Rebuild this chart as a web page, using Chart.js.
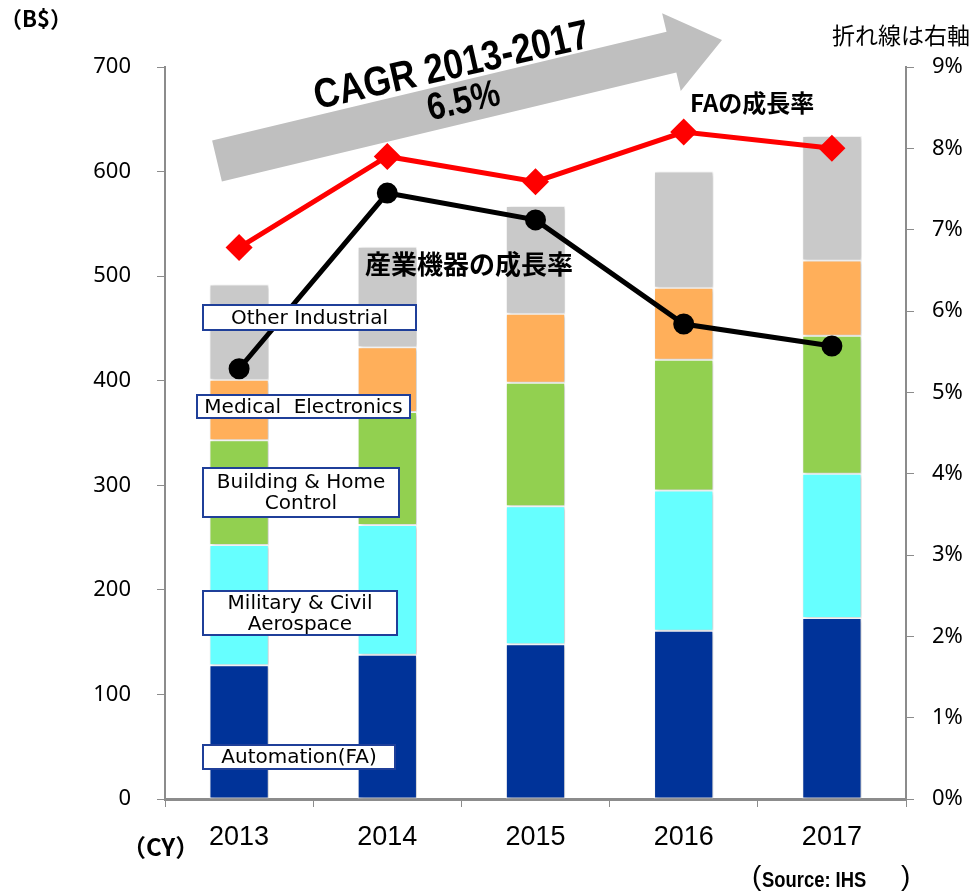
<!DOCTYPE html>
<html>
<head>
<meta charset="utf-8">
<script src="https://cdn.jsdelivr.net/npm/chart.js@4"></script>
<style>
  html, body { margin: 0; padding: 0; background: #fff; }
  #wrap { width: 972px; height: 896px; position: relative; }
</style>
</head>
<body>
<div id="wrap"><canvas id="c" width="972" height="896"></canvas></div>
<script>
// 年と系列（B$）
const YEARS = ['2013', '2014', '2015', '2016', '2017'];
const AUTOMATION = [128, 138, 148, 161, 173];
const AEROSPACE = [115, 124, 132, 134, 138];
const BUILDING = [100, 108, 118, 125, 132];
const MEDICAL = [58, 62, 66, 69, 72];
const OTHER = [91, 96, 103, 111, 119];
// 成長率（%、右軸）
const FA_GROWTH = [6.78, 7.9, 7.59, 8.2, 8.0];
const IND_GROWTH = [5.29, 7.45, 7.12, 5.84, 5.57];

const Y_MAX = 700, Y_STEP = 100;
const Y2_MAX = 9, Y2_STEP = 1;

const AXIS_GRAY = '#8c8c8c';
const JP = '"Noto Sans CJK JP", "Noto Sans", sans-serif';
const NARROW = '"Liberation Sans Narrow", "Liberation Sans", sans-serif';

function barSet(label, data, color) {
    return {
        type: 'bar', label, data, backgroundColor: color,
        borderColor: '#ffffff', borderWidth: 1, borderSkipped: false,
        barPercentage: 0.4, categoryPercentage: 1, yAxisID: 'y', order: 2
    };
}

// 棒に薄い影
const barShadow = {
    id: 'barShadow',
    beforeDatasetDraw(chart, args) {
        const ctx = chart.ctx;
        ctx.save();
        if (args.meta.type === 'bar') {
            ctx.shadowColor = 'rgba(0,0,0,0.22)';
            ctx.shadowBlur = 4;
            ctx.shadowOffsetX = 2;
            ctx.shadowOffsetY = 1;
        }
    },
    afterDatasetDraw(chart) {
        chart.ctx.restore();
    }
};

// 注記（矢印、ラベル枠、テキスト）
const annotations = {
    id: 'annotations',
    afterDatasetsDraw(chart) {
        const ctx = chart.ctx;
        ctx.save();
        // CAGR 矢印
        const sx = 217, sy = 161, ex = 722, ey = 40;
        const ang = Math.atan2(ey - sy, ex - sx);
        const len = Math.hypot(ex - sx, ey - sy);
        ctx.translate(sx, sy);
        ctx.rotate(ang);
        ctx.fillStyle = '#bfbfbf';
        ctx.beginPath();
        ctx.moveTo(0, -21);
        ctx.lineTo(len - 52, -21);
        ctx.lineTo(len - 52, -40);
        ctx.lineTo(len, 0);
        ctx.lineTo(len - 52, 40);
        ctx.lineTo(len - 52, 21);
        ctx.lineTo(0, 21);
        ctx.closePath();
        ctx.fill();
        ctx.restore();

        ctx.save();
        ctx.translate(452, 67);
        ctx.rotate(ang * 0.95);
        ctx.scale(0.95, 1.12);
        ctx.fillStyle = '#000';
        ctx.textAlign = 'center';
        ctx.textBaseline = 'middle';
        ctx.font = 'bold 37px ' + NARROW;
        ctx.fillText('CAGR 2013-2017', 0, 0);
        ctx.font = 'bold 34px ' + NARROW;
        ctx.fillText('6.5%', 4, 33);
        ctx.restore();

        // 系列ラベル枠
        ctx.save();
        const boxes = [
            { x: 203, y: 305, w: 213, h: 25, lines: ['Other Industrial'] },
            { x: 197, y: 395, w: 213, h: 23, lines: ['Medical  Electronics'] },
            { x: 203, y: 468, w: 196, h: 49, lines: ['Building & Home', 'Control'] },
            { x: 203, y: 591, w: 194, h: 44, lines: ['Military & Civil', 'Aerospace'] },
            { x: 203, y: 745, w: 192, h: 24, lines: ['Automation(FA)'] }
        ];
        ctx.textAlign = 'center';
        ctx.textBaseline = 'middle';
        ctx.font = '20px "DejaVu Sans", sans-serif';
        boxes.forEach(b => {
            ctx.fillStyle = '#fff';
            ctx.fillRect(b.x, b.y, b.w, b.h);
            ctx.strokeStyle = '#1f3f99';
            ctx.lineWidth = 2;
            ctx.strokeRect(b.x, b.y, b.w, b.h);
            ctx.fillStyle = '#000';
            const lh = 21;
            const y0 = b.y + b.h / 2 - (b.lines.length - 1) * lh / 2;
            b.lines.forEach((t, i) => ctx.fillText(t, b.x + b.w / 2, y0 + i * lh + 1));
        });

        // テキスト
        ctx.fillStyle = '#000';
        ctx.textAlign = 'left';
        ctx.textBaseline = 'middle';
        ctx.font = 'bold 24px ' + JP;
        ctx.fillText('FAの成長率', 690, 103);
        ctx.font = 'bold 26px ' + JP;
        ctx.fillText('産業機器の成長率', 365, 264);
        ctx.font = '23px ' + JP;
        ctx.fillText('折れ線は右軸', 832, 35);
        ctx.font = 'bold 22px ' + JP;
        ctx.fillText('（B$）', 0, 19);
        ctx.font = 'bold 24px ' + JP;
        ctx.fillText('（CY）', 122, 847);
        ctx.save();
        ctx.translate(762, 881);
        ctx.scale(0.92, 1.12);
        ctx.font = 'bold 20px ' + NARROW;
        ctx.fillText('Source: IHS', 0, 0);
        ctx.restore();
        ctx.font = '28px ' + NARROW;
        ctx.fillText('(', 752, 877);
        ctx.fillText(')', 901, 877);
        ctx.restore();
    }
};

new Chart(document.getElementById('c'), {
    data: {
        labels: YEARS,
        datasets: [
            {
                type: 'line', label: 'FAの成長率', data: FA_GROWTH, yAxisID: 'y2', order: 0,
                borderColor: '#ff0000', backgroundColor: '#ff0000', borderWidth: 5,
                pointStyle: 'rectRot', pointRadius: 10, tension: 0
            },
            {
                type: 'line', label: '産業機器の成長率', data: IND_GROWTH, yAxisID: 'y2', order: 1,
                borderColor: '#000000', backgroundColor: '#000000', borderWidth: 5,
                pointStyle: 'circle', pointRadius: 8, tension: 0
            },
            barSet('Automation(FA)', AUTOMATION, '#003399'),
            barSet('Military & Civil Aerospace', AEROSPACE, '#66ffff'),
            barSet('Building & Home Control', BUILDING, '#92d050'),
            barSet('Medical Electronics', MEDICAL, '#ffaf5a'),
            barSet('Other Industrial', OTHER, '#c9c9c9')
        ]
    },
    options: {
        responsive: false,
        animation: false,
        layout: { padding: { top: 67, right: 0, left: 0, bottom: 0 } },
        plugins: { legend: { display: false }, tooltip: { enabled: false } },
        scales: {
            x: {
                stacked: true,
                afterFit: (s) => { s.height = 97; },
                grid: { display: true, drawOnChartArea: false, offset: true, tickLength: 8, color: AXIS_GRAY },
                border: { color: AXIS_GRAY, width: 3 },
                ticks: { color: '#000', padding: 14, font: { family: NARROW, size: 27 } }
            },
            y: {
                stacked: true, min: 0, max: Y_MAX, position: 'left',
                afterFit: (s) => { s.width = 165; },
                grid: { display: true, drawOnChartArea: false, tickLength: 8, color: AXIS_GRAY },
                border: { color: AXIS_GRAY, width: 2 },
                ticks: { stepSize: Y_STEP, color: '#000', padding: 26, font: { family: '"Noto Sans", sans-serif', size: 22 } }
            },
            y2: {
                min: 0, max: Y2_MAX, position: 'right',
                afterFit: (s) => { s.width = 66; },
                grid: { display: true, drawOnChartArea: false, tickLength: 8, color: AXIS_GRAY },
                border: { color: AXIS_GRAY, width: 2 },
                ticks: {
                    stepSize: Y2_STEP, color: '#000', padding: 18,
                    font: { family: '"Noto Sans", sans-serif', size: 22 },
                    callback: (v) => v + '%'
                }
            }
        }
    },
    plugins: [barShadow, annotations]
});
</script>
</body>
</html>
